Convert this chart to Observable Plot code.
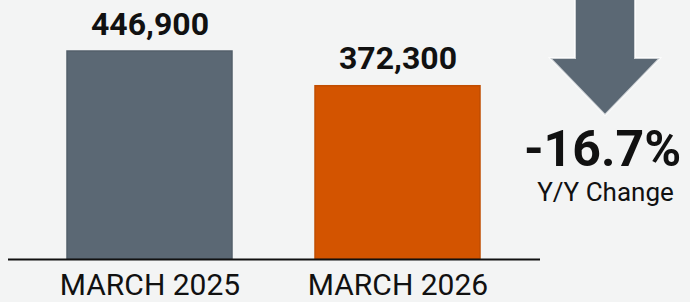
<!DOCTYPE html>
<html>
<head>
<meta charset="utf-8">
<script src="https://cdn.jsdelivr.net/npm/d3@7"></script>
<script src="https://cdn.jsdelivr.net/npm/@observablehq/plot@0.6"></script>
<style>
  html, body { margin: 0; padding: 0; background: #f3f4f4; }
  #chart { width: 690px; height: 302px; }
  svg { font-family: Roboto, "Noto Sans", sans-serif; }
</style>
</head>
<body>
<div id="chart"></div>
<script>
const periods = ["MARCH 2025", "MARCH 2026"];
const values = [446900, 372300];
const barColors = ["#5b6874", "#d35400"];
const changeCaption = "Y/Y Change";

const data = periods.map((p, i) => ({period: p, value: values[i], color: barColors[i]}));
const change = (values[1] - values[0]) / values[0] * 100;
const changeLabel = (change > 0 ? "+" : "") + change.toFixed(1) + "%";
const fmt = d3.format(",");

const W = 690, H = 302, mL = 8, mR = 150, mT = 0, mB = 43;

const chart = Plot.plot({
  width: W,
  height: H,
  marginLeft: mL,
  marginRight: mR,
  marginTop: mT,
  marginBottom: mB,
  style: {background: "transparent", fontFamily: "Roboto, sans-serif", color: "#111"},
  x: {domain: periods, paddingInner: 0.333, paddingOuter: 0.235, label: null},
  y: {domain: [0, 556500], axis: null},
  marks: [
    Plot.barY(data, {x: "period", y: "value", fill: "color", stroke: d => d3.color(d.color).darker(0.25).formatHex(), strokeWidth: 1.5, inset: 0}),
    Plot.ruleY([0], {stroke: "#111", strokeWidth: 2}),
    Plot.text(data, {x: "period", y: "value", text: d => fmt(d.value), dy: -17, lineAnchor: "bottom", fontSize: 32, fontWeight: "bold", fill: "#111"}),
    Plot.axisX({tickSize: 0, tickPadding: 14, fontSize: 30, fill: "#111"}),
    Plot.text([changeLabel], {frameAnchor: "top-right", textAnchor: "middle", lineAnchor: "bottom", dx: 62, dy: 165, fontSize: 50, fontWeight: "bold", fill: "#111"}),
    Plot.text([changeCaption], {frameAnchor: "top-right", textAnchor: "middle", lineAnchor: "bottom", dx: 65, dy: 200, fontSize: 26, fill: "#111"})
  ]
});

document.getElementById("chart").appendChild(chart);

// decorative down arrow in the right margin
const svg = d3.select(chart);
const ax = W - mR + 65; // arrow centre x
const arrow = [
  [ax - 30, -5], [ax + 30, -5], [ax + 30, 58], [ax + 55, 58],
  [ax, 115], [ax - 55, 58], [ax - 30, 58]
];
svg.insert("path", ":first-child")
  .attr("d", d3.line()(arrow) + "Z")
  .attr("fill", "#5b6874")
  .attr("stroke", "#ffffff")
  .attr("stroke-opacity", 0.7)
  .attr("stroke-width", 2);
</script>
</body>
</html>
